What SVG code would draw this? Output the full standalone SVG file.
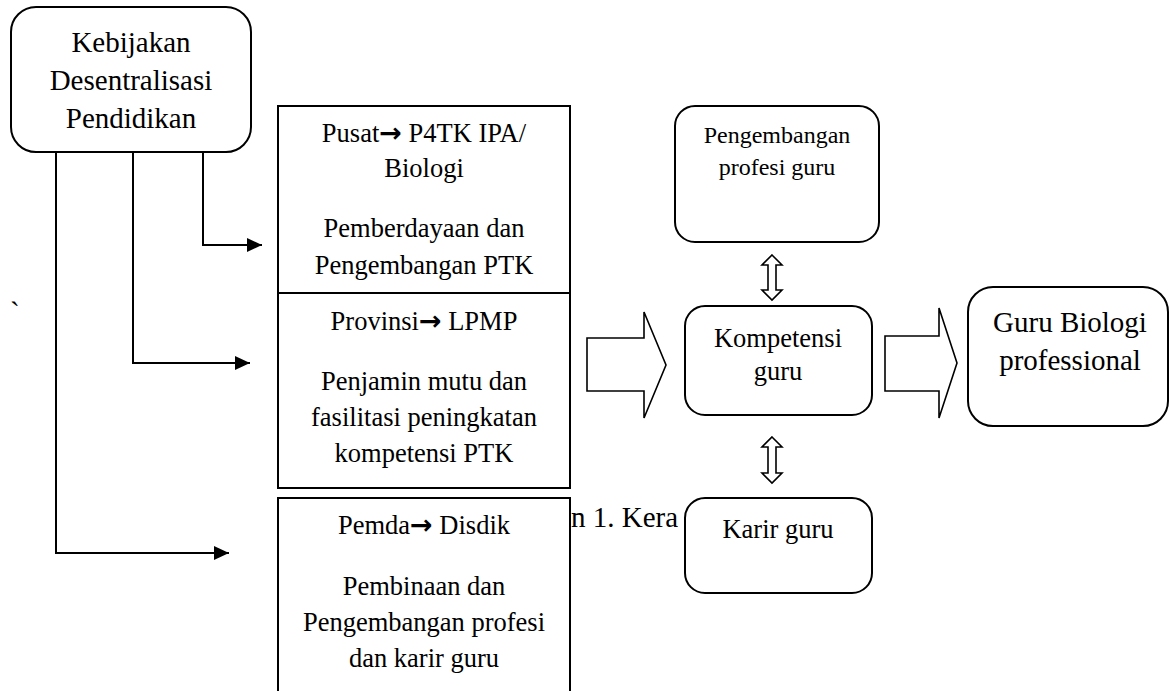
<svg xmlns="http://www.w3.org/2000/svg" width="1171" height="691" viewBox="0 0 1171 691">
<defs>
<style>
text{font-family:"Liberation Serif","Times New Roman",serif;fill:#000;text-anchor:middle}
.arr{font-family:"DejaVu Sans",sans-serif;font-weight:bold;font-size:27px}
.box{fill:#fff;stroke:#000;stroke-width:2}
.ln{fill:none;stroke:#000;stroke-width:2}
.hol{fill:#fff;stroke:#000;stroke-width:1.6;stroke-linejoin:miter}
.t29{font-size:29px}
.t26{font-size:26.5px}
.t24{font-size:24px}
</style>
<marker id="ah" markerUnits="userSpaceOnUse" markerWidth="16" markerHeight="14" refX="15" refY="7" orient="auto">
<path d="M0,0 L15,7 L0,14 Z" fill="#000"/>
</marker>
</defs>
<rect width="1171" height="691" fill="#fff"/>
<text class="t29" x="10" y="322" style="text-anchor:start">`</text>
<text class="t29" x="571" y="527" style="text-anchor:start">n 1. Kera</text>
<g id="connectors">
<path class="ln" d="M203,152 V245 H262" marker-end="url(#ah)"/>
<path class="ln" d="M133,152 V363 H250" marker-end="url(#ah)"/>
<path class="ln" d="M56,152 V553 H229" marker-end="url(#ah)"/>
<polygon class="hol" points="587,338 644,338 644,312 666,365 644,418 644,391 587,391"/>
<polygon class="hol" points="885,336 939,336 939,308 957,363 939,418 939,391 885,391"/>
<polygon class="hol" points="772,255 782,265 776,265 776,290 782,290 772,300 762,290 768,290 768,265 762,265"/>
<polygon class="hol" points="772,437 782,447 776,447 776,473 782,473 772,483 762,473 768,473 768,447 762,447"/>
</g>
<g id="kebijakan">
<rect class="box" x="11" y="7" width="240" height="145" rx="25"/>
<text class="t29" x="131" y="52">Kebijakan</text>
<text class="t29" x="131" y="90">Desentralisasi</text>
<text class="t29" x="131" y="128">Pendidikan</text>
</g>
<g id="pusat">
<rect class="box" x="278" y="106" width="292" height="187"/>
<text class="t26" x="424" y="142">Pusat<tspan class="arr">→</tspan> P4TK IPA/</text>
<text class="t26" x="424" y="177">Biologi</text>
<text class="t26" x="424" y="237">Pemberdayaan dan</text>
<text class="t26" x="424" y="274">Pengembangan PTK</text>
</g>
<g id="provinsi">
<rect class="box" x="278" y="293" width="292" height="195"/>
<text class="t26" x="424" y="330">Provinsi<tspan class="arr">→</tspan> LPMP</text>
<text class="t26" x="424" y="390">Penjamin mutu dan</text>
<text class="t26" x="424" y="426">fasilitasi peningkatan</text>
<text class="t26" x="424" y="462">kompetensi PTK</text>
</g>
<g id="pemda">
<rect class="box" x="278" y="498" width="292" height="205"/>
<text class="t26" x="424" y="534">Pemda<tspan class="arr">→</tspan> Disdik</text>
<text class="t26" x="424" y="595">Pembinaan dan</text>
<text class="t26" x="424" y="631">Pengembangan profesi</text>
<text class="t26" x="424" y="667">dan karir guru</text>
</g>
<g id="pengembangan">
<rect class="box" x="675" y="106" width="204" height="136" rx="20"/>
<text class="t24" x="777" y="143">Pengembangan</text>
<text class="t24" x="777" y="175">profesi guru</text>
</g>
<g id="kompetensi">
<rect class="box" x="685" y="306" width="187" height="109" rx="20"/>
<text class="t26" x="778" y="347">Kompetensi</text>
<text class="t26" x="778" y="380">guru</text>
</g>
<g id="karir">
<rect class="box" x="685" y="498" width="187" height="95" rx="20"/>
<text class="t26" x="778" y="538">Karir guru</text>
</g>
<g id="guru-biologi">
<rect class="box" x="968" y="287" width="200" height="139" rx="25"/>
<text class="t29" x="1070" y="332">Guru Biologi</text>
<text class="t29" x="1070" y="370">professional</text>
</g>
</svg>
